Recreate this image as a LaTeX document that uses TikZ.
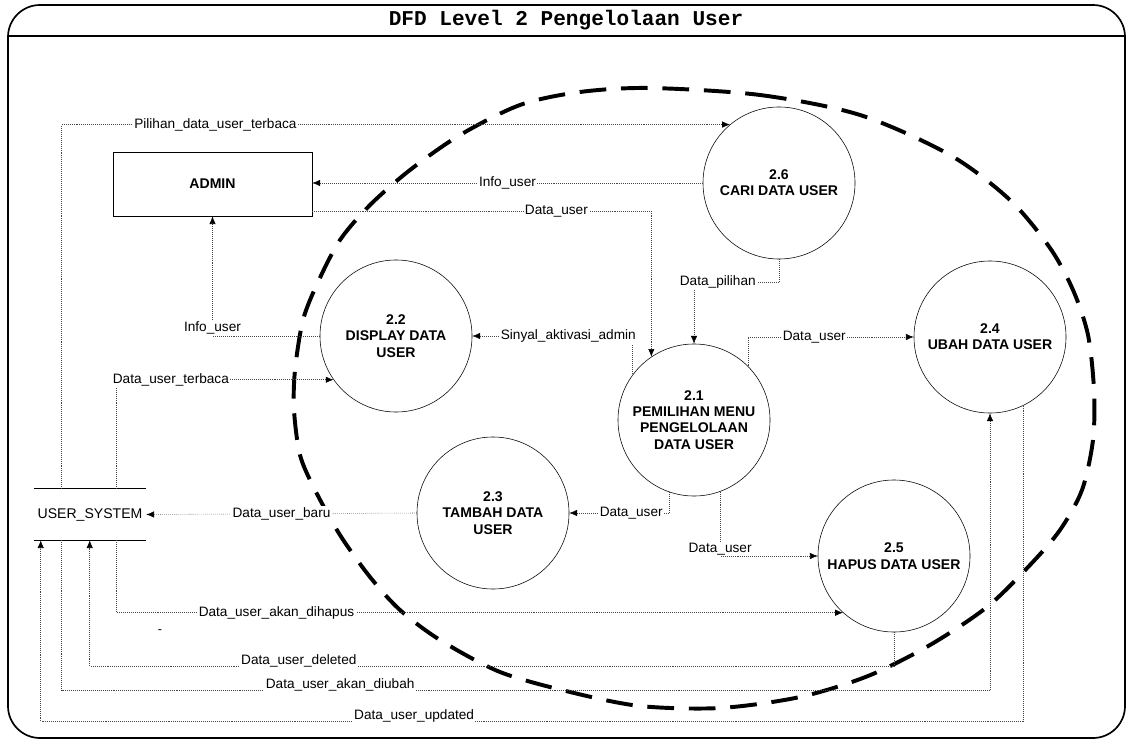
\documentclass[tikz,border=0pt]{standalone}
\usepackage{fontspec}
\setmainfont{Liberation Sans}
\newfontfamily\dfdtitle{Liberation Mono}
\usepackage{tikz}
\usetikzlibrary{arrows.meta}
\usetikzlibrary{calc,positioning}
\tikzstyle{flow} = [densely dotted, gray!55!black, thin, -{Latex[length=5.5pt,width=4.5pt,color=black]}]
\tikzset{
    proc/.style = {draw, circle, minimum size=3.8cm, inner sep=0pt, align=center, font=\bfseries\fontsize{10}{11.6}\selectfont},
    entity/.style = {draw, rectangle, minimum width=4.975cm, minimum height=1.6cm, font=\bfseries\fontsize{10}{12}\selectfont},
    store/.style = {rectangle, minimum width=2.8cm, minimum height=1.275cm, inner sep=0pt, font=\fontsize{10}{12}\selectfont},
    lbl/.style = {fill=white, inner sep=1pt, text=black, font=\fontsize{9.7}{11}\selectfont},
}

\begin{document}
\begin{tikzpicture}[x=0.025cm, y=-0.025cm]
    \useasboundingbox (0,0) rectangle (1129,741);
    \draw [line width=1.2pt, rounded corners=0.8cm] (8,5) rectangle (1125,738);
    \draw [line width=1pt] (8,36) -- (1125,36);
    \node [font=\dfdtitle\bfseries\fontsize{15}{17}\selectfont] (title) at (566,20) {DFD Level 2 Pengelolaan User};

    % batas sistem
    \draw [line width=2.8pt, dash pattern=on 19pt off 10.5pt] plot [smooth cycle] coordinates {
        (650,88) (760,95) (860,115) (950,155) (1010,200) (1050,248) (1073,290) (1088,335)
        (1094,390) (1093,440) (1082,490) (1060,530) (1030,565) (987,607) (930,645) (868,676)
        (800,697) (720,708) (640,706) (570,692) (500,672) (440,640) (400,610) (370,577)
        (340,535) (315,490) (300,455) (294,410) (295,370) (303,320) (318,282) (340,240)
        (370,205) (410,170) (460,135) (520,105) (580,92)};

    \node [entity] (admin) at (212.5,184) {ADMIN};
    \node [store] (usersys) at (90,514.5) {USER\_SYSTEM};
    \draw [line width=0.6pt] (usersys.north west) -- (usersys.north east);
    \draw [line width=0.6pt] (usersys.south west) -- (usersys.south east);

    \node [proc] (p26) at (779,183) {2.6\\CARI DATA USER};
    \node [proc] (p22) at (396,336) {2.2\\DISPLAY DATA\\USER};
    \node [proc] (p21) at (694,420) {2.1\\PEMILIHAN MENU\\PENGELOLAAN\\DATA USER};
    \node [proc] (p24) at (990,337) {2.4\\UBAH DATA USER};
    \node [proc] (p23) at (493,513) {2.3\\TAMBAH DATA\\USER};
    \node [proc] (p25) at (894,556) {2.5\\HAPUS DATA USER};
    \node [font=\fontsize{9}{10}\selectfont] (mark) at (160,632) {-};

    \draw [flow] ($(usersys.north west)+(28,0)$) |- node [lbl, pos=0.615] {Pilihan\_data\_user\_terbaca} (p26.130);
    \draw [flow] (p26.west) -- node [lbl, pos=0.5] {Info\_user} (p26.west -| admin.east);
    \draw [flow] ($(admin.east)+(0,27)$) -| node [lbl, pos=0.36] {Data\_user} (p21.124);
    \draw [flow] (p22.west) -| node [lbl, pos=0.5, yshift=5.5pt] {Info\_user} (admin.south);
    \draw [flow] ($(usersys.north west)+(83,0)$) |- node [lbl, pos=0.625] {Data\_user\_terbaca} (p22.215);
    \draw [flow] (p21.144) |- node [lbl, pos=0.7] {Sinyal\_aktivasi\_admin} (p22.east);
    \draw [flow] (p26.south) -- ++(0,23) -| node [lbl, pos=0.36] {Data\_pilihan} (p21.north);
    \draw [flow] (p21.45) |- node [lbl, pos=0.7] {Data\_user} (p24.west);
    \draw [flow] (p21.251) |- node [lbl, pos=0.69] {Data\_user} (p23.east);
    \draw [flow] (p21.-70) |- node [lbl, pos=0.5, yshift=5pt] {Data\_user} (p25.west);
    \draw [flow] (p23.west) -- node [lbl, pos=0.5] {Data\_user\_baru} (usersys.east);
    \draw [flow] ($(usersys.south west)+(83,0)$) |- node [lbl, pos=0.61] {Data\_user\_akan\_dihapus} (p25.228);
    \draw [flow] (p25.south) -- ++(0,34) -| node [lbl, pos=0.37, yshift=3.5pt] {Data\_user\_deleted} ($(usersys.south west)+(56,0)$);
    \draw [flow] ($(usersys.south west)+(28,0)$) -- ++(0,150) -| node [lbl, pos=0.15, yshift=4pt] {Data\_user\_akan\_diubah} (p24.south);
    \draw [flow] (p24.-64) -- ++(0,316) -| node [lbl, pos=0.31, yshift=4pt] {Data\_user\_updated} ($(usersys.south west)+(7,0)$);
\end{tikzpicture}
\end{document}
